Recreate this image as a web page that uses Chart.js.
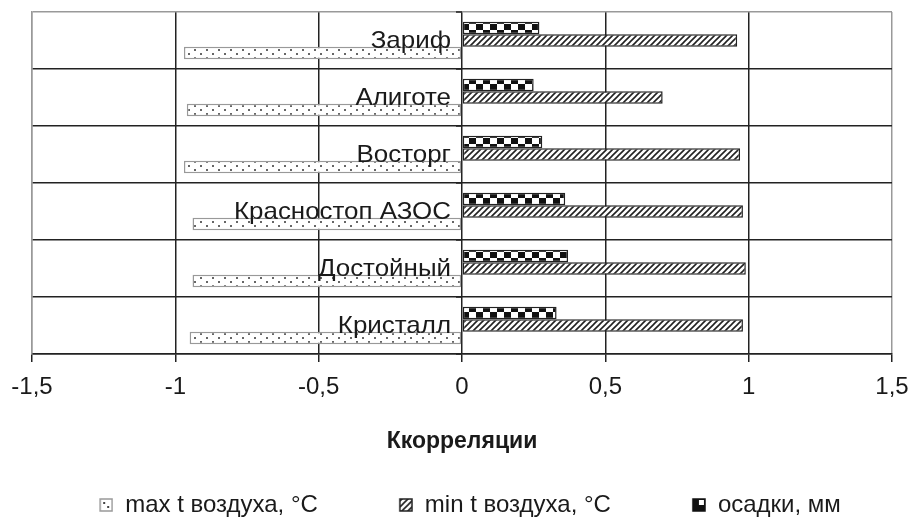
<!DOCTYPE html>
<html>
<head>
<meta charset="utf-8">
<script src="https://cdn.jsdelivr.net/npm/chart.js@4"></script>
<style>
  html, body { margin: 0; padding: 0; background: #fff; }
  #wrap { width: 908px; height: 524px; }
</style>
</head>
<body>
<div id="wrap"><canvas id="chart" width="908" height="524"></canvas></div>
<script>
const varieties = ['Зариф', 'Алиготе', 'Восторг', 'Красностоп АЗОС', 'Достойный', 'Кристалл'];
const maxTemp = [-0.97, -0.96, -0.97, -0.94, -0.94, -0.95];
const minTemp = [0.96, 0.70, 0.97, 0.98, 0.99, 0.98];
const rainfall = [0.27, 0.25, 0.28, 0.36, 0.37, 0.33];
const xTicks = [-1.5, -1, -0.5, 0, 0.5, 1, 1.5];

const canvas = document.getElementById('chart');
const ctx = canvas.getContext('2d');

// small tiles used as fills
function tile(w, h, draw) {
  const c = document.createElement('canvas');
  c.width = w;
  c.height = h;
  const g = c.getContext('2d');
  g.fillStyle = '#fff';
  g.fillRect(0, 0, w, h);
  draw(g);
  return c;
}

const dotTile = tile(12, 8, (g) => {
  g.fillStyle = '#666';
  g.fillRect(2, 1, 2, 2);
  g.fillRect(8, 5, 2, 2);
});

const hatchTile = tile(6, 6, (g) => {
  g.strokeStyle = '#222';
  g.lineWidth = 1.6;
  g.beginPath();
  g.moveTo(-1, 7); g.lineTo(7, -1);
  g.moveTo(-1, 1); g.lineTo(1, -1);
  g.moveTo(5, 7); g.lineTo(7, 5);
  g.stroke();
});

const checkTile = tile(14, 12, (g) => {
  g.fillStyle = '#111';
  g.fillRect(0, 0, 7, 6);
  g.fillRect(7, 6, 7, 6);
});

// legend swatch: blank lead-in, then the small square at the right end
const LEAD = 32;
function swatch(fill, border) {
  const c = document.createElement('canvas');
  c.width = LEAD + 14;
  c.height = 14;
  const g = c.getContext('2d');
  fill(g, LEAD + 1, 1, 12, 12);
  g.strokeStyle = border;
  g.lineWidth = 1.5;
  g.strokeRect(LEAD + 1, 1, 12, 12);
  return c;
}

const dotIcon = swatch((g, x, y, w, h) => {
  g.fillStyle = '#fff';
  g.fillRect(x, y, w, h);
  g.fillStyle = '#444';
  g.fillRect(x + 3, y + 3, 2, 2);
  g.fillRect(x + 7, y + 7, 2, 2);
}, '#999');

const hatchIcon = swatch((g, x, y, w, h) => {
  g.fillStyle = g.createPattern(hatchTile, 'repeat');
  g.fillRect(x, y, w, h);
}, '#222');

const checkIcon = swatch((g, x, y, w, h) => {
  g.fillStyle = '#111';
  g.fillRect(x, y, w, h);
  g.fillStyle = '#fff';
  g.fillRect(x + 6, y + 1, 5, 5);
}, '#111');

const fmt = (v) => String(v).replace('.', ',');

// category names sit just left of the zero line
const insideLabels = {
  id: 'insideLabels',
  afterDatasetsDraw(chart) {
    const { ctx: g, scales } = chart;
    const x0 = scales.x.getPixelForValue(0);
    const sx = 1.08; // the original text is a bit wide
    g.save();
    g.font = '24px "Liberation Sans", Arial, sans-serif';
    g.fillStyle = '#1a1a1a';
    g.textAlign = 'right';
    g.textBaseline = 'middle';
    varieties.forEach((name, i) => {
      g.save();
      g.translate(x0 - 11, scales.y.getPixelForValue(i) + 1);
      g.scale(sx, 1);
      g.fillText(name, 0, 0);
      g.restore();
    });
    // little tick marks of the category axis
    g.strokeStyle = '#222';
    g.lineWidth = 1.5;
    g.beginPath();
    for (let i = 0; i <= varieties.length; i++) {
      const y = scales.y.getPixelForValue(i - 0.5);
      g.moveTo(x0 - 6, y);
      g.lineTo(x0, y);
    }
    g.stroke();
    g.restore();
  },
};

Chart.defaults.font.family = '"Liberation Sans", Arial, sans-serif';
Chart.defaults.color = '#1a1a1a';

new Chart(ctx, {
  type: 'bar',
  data: {
    labels: varieties,
    datasets: [
      {
        label: 'осадки, мм',
        data: rainfall,
        backgroundColor: ctx.createPattern(checkTile, 'repeat'),
        borderColor: '#222',
        borderWidth: 1.5,
        pointStyle: checkIcon,
      },
      {
        label: 'min t воздуха, °C',
        data: minTemp,
        backgroundColor: ctx.createPattern(hatchTile, 'repeat'),
        borderColor: '#222',
        borderWidth: 1.5,
        pointStyle: hatchIcon,
      },
      {
        label: 'max t воздуха, °C',
        data: maxTemp,
        backgroundColor: ctx.createPattern(dotTile, 'repeat'),
        borderColor: '#999',
        borderWidth: 1.5,
        pointStyle: dotIcon,
      },
    ],
  },
  options: {
    indexAxis: 'y',
    responsive: false,
    animation: false,
    layout: { padding: { left: 0, right: 0, top: 12, bottom: -3 } },
    datasets: {
      bar: { categoryPercentage: 0.66, barPercentage: 1, borderSkipped: false },
    },
    scales: {
      x: {
        min: -1.5,
        max: 1.5,
        afterBuildTicks: (scale) => {
          scale.ticks = xTicks.map((v) => ({ value: v }));
        },
        afterFit: (scale) => {
          scale.height = 90;
          scale.paddingLeft = 0;
          scale.paddingRight = 16;
        },
        ticks: {
          font: { size: 24 },
          padding: 11,
          callback: (v) => fmt(v),
        },
        grid: {
          color: (c) => (c.tick && Math.abs(c.tick.value) === 1.5 ? '#999' : '#222'),
          lineWidth: 1.5,
          tickLength: 8,
          tickColor: '#222',
        },
        border: { color: '#222', width: 1.5 },
        title: {
          display: true,
          text: 'Ккорреляции',
          font: { size: 23, weight: 'bold' },
          padding: { top: 0, bottom: -11 },
        },
      },
      y: {
        afterFit: (scale) => {
          scale.width = 32;
        },
        ticks: { display: false },
        grid: {
          offset: true,
          drawTicks: false,
          color: (c) => (c.index === 0 ? '#999' : '#222'),
          lineWidth: 1.5,
        },
        border: { color: '#999', width: 1.5 },
      },
    },
    plugins: {
      legend: {
        position: 'bottom',
        reverse: true,
        labels: {
          font: { size: 24 },
          usePointStyle: true,
          pointStyleWidth: LEAD + 14,
          boxHeight: 14,
          padding: 49,
        },
      },
      tooltip: { enabled: false },
    },
  },
  plugins: [insideLabels],
});
</script>
</body>
</html>
